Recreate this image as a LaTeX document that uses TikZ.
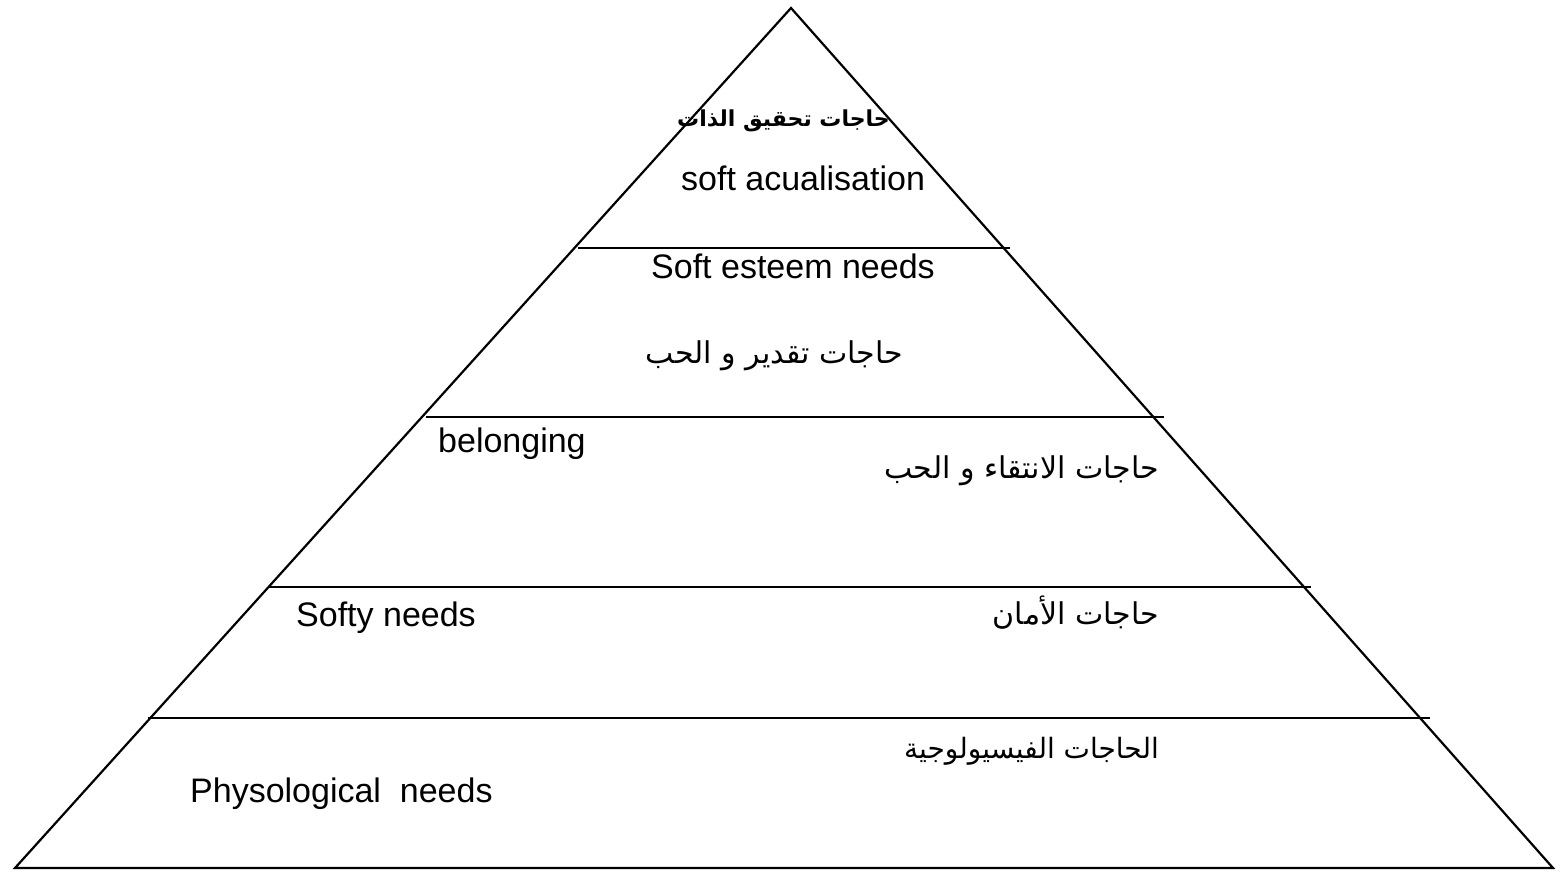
\documentclass[tikz,border=0pt]{standalone}
\usepackage{fontspec}
\setmainfont{Liberation Sans}
\newfontfamily\arabicfont[Script=Arabic]{DejaVu Sans}
\TeXXeTstate=1
\tikzset{
  edge/.style={line width=2.2pt, black},
  lat/.style={inner sep=0pt, font=\fontsize{34}{38}\selectfont},
  ara/.style={inner sep=0pt, font=\arabicfont\fontsize{30}{34}\selectfont},
}
\begin{document}
\begin{tikzpicture}[x=1pt,y=-1pt]
\useasboundingbox (0,0) rectangle (1568,873);
\coordinate (apex) at (791,8);
\coordinate (bl) at (15,868);
\coordinate (br) at (1553,868);
\draw[edge, line join=miter] (bl) -- (apex) -- (br) -- cycle;
\coordinate (l1a) at (578,248); \coordinate (l1b) at (1010,248);
\coordinate (l2a) at (426,417); \coordinate (l2b) at (1164,417);
\coordinate (l3a) at (268,587); \coordinate (l3b) at (1311,587);
\coordinate (l4a) at (148,718); \coordinate (l4b) at (1430,718);
\draw[edge] (l1a) -- (l1b);
\draw[edge] (l2a) -- (l2b);
\draw[edge] (l3a) -- (l3b);
\draw[edge] (l4a) -- (l4b);
\node[ara, font=\arabicfont\bfseries\fontsize{22}{26}\selectfont, anchor=east] (t1) at (890,121) {\beginR حاجات تحقيق الذات\endR};
\node[lat, anchor=base west] (t2) at (681,190) {soft acualisation};
\node[lat, anchor=base west] (t3) at (651,278) {Soft esteem needs};
\node[ara, anchor=east] (t4) at (903,356) {\beginR حاجات تقدير و الحب\endR};
\node[lat, anchor=base west] (t5) at (438,452) {belonging};
\node[ara, anchor=east] (t6) at (1159,471) {\beginR حاجات الانتقاء و الحب\endR};
\node[lat, anchor=base west] (t7) at (296,626) {Softy needs};
\node[ara, anchor=east] (t8) at (1159,613) {\beginR حاجات الأمان\endR};
\node[ara, font=\arabicfont\fontsize{28}{32}\selectfont, anchor=east] (t9) at (1159,751) {\beginR الحاجات الفيسيولوجية\endR};
\node[lat, anchor=base west] (t10) at (190,802) {Physological\ \ needs};
\end{tikzpicture}
\end{document}
